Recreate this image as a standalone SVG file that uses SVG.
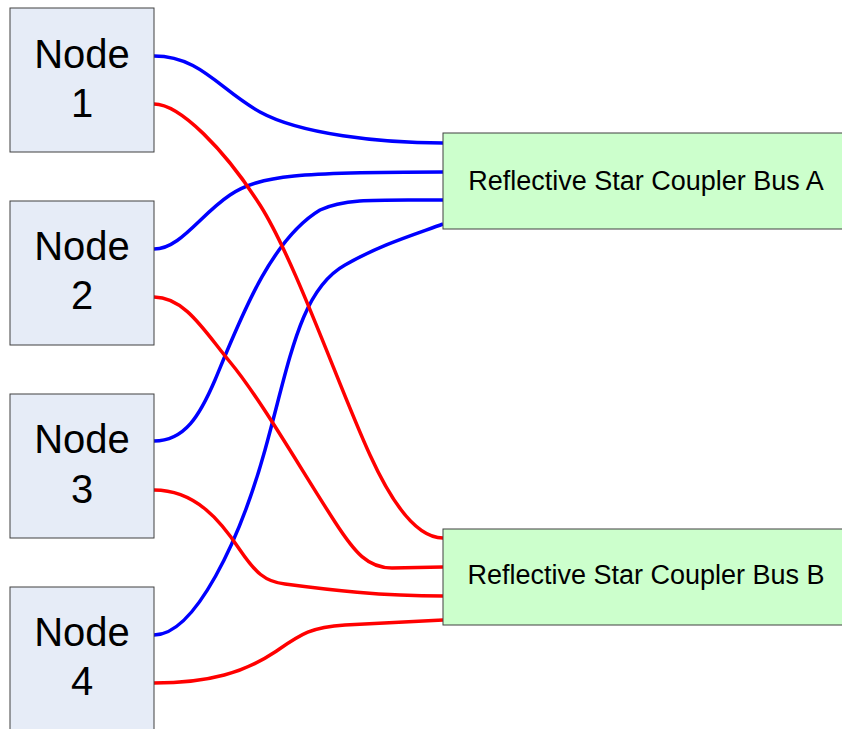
<svg xmlns="http://www.w3.org/2000/svg" width="842" height="729" viewBox="0 0 842 729">
<style>
.node{fill:#E6ECF7;stroke:#404040;stroke-width:1}
.bus{fill:#CCFFCC;stroke:#404040;stroke-width:1}
.nt{font-family:"Liberation Sans",Arial,sans-serif;font-size:40px;fill:#000;text-anchor:middle}
.bt{font-family:"Liberation Sans",Arial,sans-serif;font-size:27px;fill:#000;text-anchor:middle}
.a{fill:none;stroke:#0000FF;stroke-width:3.5}
.b{fill:none;stroke:#FF0000;stroke-width:3.5}
</style>
<rect width="842" height="729" fill="#FFFFFF"/>
<g id="connectors">
<path class="a" d="M154,56 C200,56 220,90 260,112 S380,143 443,143"/>
<path class="a" d="M154,249 C180,249 200,215 230,195 S300,172 443,172"/>
<path class="a" d="M154,441 C185,441 200,415 215,380 C240,320 270,240 320,210 C345,198 380,200 443,200"/>
<path class="a" d="M154,635 C195,635 240,540 265,450 C290,360 300,290 345,265 C380,245 410,236 443,224"/>
<path class="b" d="M154,104 C180,104 225,150 260,205 C295,260 340,390 370,455 C395,510 420,538 443,538"/>
<path class="b" d="M154,297 C185,297 205,332 230,362 C260,398 300,468 335,522 C355,553 368,568 392,568 L443,567"/>
<path class="b" d="M154,490 C195,490 220,520 240,550 C255,572 265,582 285,584 C330,590 380,596 443,596"/>
<path class="b" d="M154,683 C210,683 245,672 275,652 C300,635 310,627 345,625 L443,620"/>
</g>
<g id="node1"><rect class="node" x="10" y="8" width="144" height="144"/><text class="nt" x="82" y="68">Node</text><text class="nt" x="82" y="117">1</text></g>
<g id="node2"><rect class="node" x="10" y="201" width="144" height="144"/><text class="nt" x="82" y="260">Node</text><text class="nt" x="82" y="309">2</text></g>
<g id="node3"><rect class="node" x="10" y="394" width="144" height="144"/><text class="nt" x="82" y="453">Node</text><text class="nt" x="82" y="503">3</text></g>
<g id="node4"><rect class="node" x="10" y="587" width="144" height="144"/><text class="nt" x="82" y="646">Node</text><text class="nt" x="82" y="695">4</text></g>
<g id="busA"><rect class="bus" x="443" y="133" width="400" height="96"/><text class="bt" x="646" y="190">Reflective Star Coupler Bus A</text></g>
<g id="busB"><rect class="bus" x="443" y="529" width="400" height="96"/><text class="bt" x="646" y="584">Reflective Star Coupler Bus B</text></g>
</svg>
